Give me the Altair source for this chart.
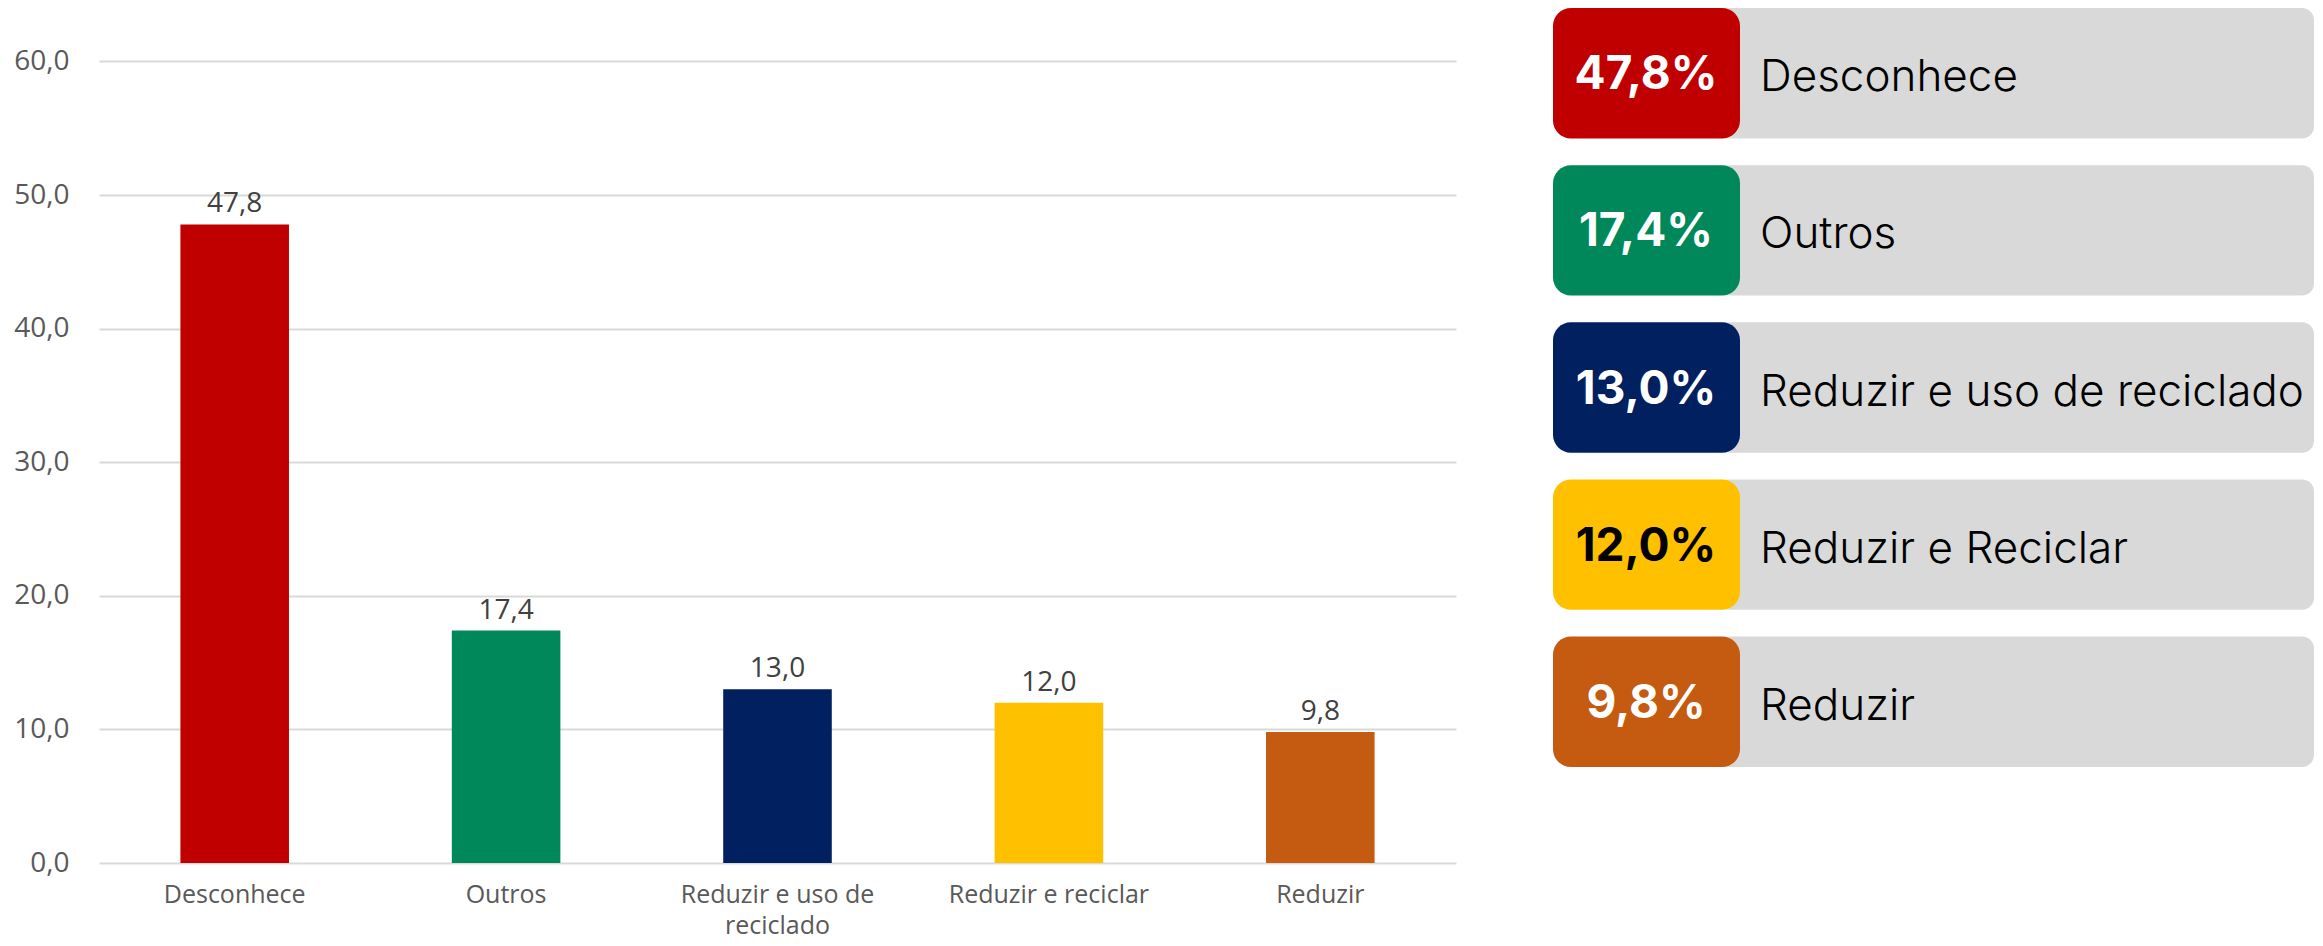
import altair as alt
import pandas as pd

# ---- data ----
categories = ["Desconhece", "Outros", "Reduzir e uso de reciclado", "Reduzir e reciclar", "Reduzir"]
values = [47.8, 17.4, 13.0, 12.0, 9.8]
card_labels = ["Desconhece", "Outros", "Reduzir e uso de reciclado", "Reduzir e Reciclar", "Reduzir"]
y_ticks = [0, 10, 20, 30, 40, 50, 60]
wrapped = {"Reduzir e uso de reciclado": ["Reduzir e uso de", "reciclado"]}

bar_colors = ["#C00000", "#00875A", "#002060", "#FFC000", "#C55A11"]

df = pd.DataFrame({"cat": categories, "value": values})
cards = pd.DataFrame({"key": categories, "label": card_labels, "value": values})

# wrapped x labels
expr = "datum.label"
for k, lines in wrapped.items():
    arr = "[" + ", ".join("'" + s + "'" for s in lines) + "]"
    expr = f"datum.label == '{k}' ? {arr} : ({expr})"

comma_fmt = "replace(format(datum.value, '.1f'), '.', ',')"

# ---- left panel: bar chart ----
base = alt.Chart(df).encode(
    x=alt.X("cat:N", sort=categories, title=None,
            scale=alt.Scale(paddingInner=0.6, paddingOuter=0.3),
            axis=alt.Axis(labelAngle=0, ticks=False, domain=False, labelPadding=19,
                          labelFontSize=25, labelColor="#595959", labelFont="Open Sans",
                          labelLineHeight=31, labelLimit=0, labelExpr=expr)),
    y=alt.Y("value:Q", title=None,
            scale=alt.Scale(domain=[0, 64], nice=False),
            axis=alt.Axis(values=y_ticks, ticks=False, domain=False,
                          gridColor="#D9D9D9", gridWidth=2,
                          labelFontSize=28, labelFont="Open Sans", labelColor="#595959",
                          labelPadding=30, labelExpr=comma_fmt)),
)

bars = base.mark_bar().encode(
    color=alt.Color("cat:N", scale=alt.Scale(domain=categories, range=bar_colors), legend=None)
)
labels = base.mark_text(dy=-12, baseline="alphabetic", fontSize=28, font="Open Sans",
                        color="#404040").encode(text="lbl:N").transform_calculate(lbl=comma_fmt)

left = alt.layer(bars, labels).properties(width=1357, height=855)

# ---- right panel: cards ----
cbase = alt.Chart(cards).encode(
    y=alt.Y("key:N", sort=categories, axis=None,
            scale=alt.Scale(paddingInner=0.17, paddingOuter=0))
)
gray = cbase.mark_rect(color="#D9D9D9", cornerRadius=12).encode(
    x=alt.value(165), x2=alt.value(761))
box = cbase.mark_rect(cornerRadius=18).encode(
    x=alt.value(0), x2=alt.value(187),
    color=alt.Color("key:N", scale=alt.Scale(domain=categories, range=bar_colors), legend=None))
pct = cbase.mark_text(font="Inter", fontSize=46, fontWeight="bold", dy=2, align="center").encode(
    x=alt.value(93), text="pct:N",
    color=alt.condition(alt.datum.key == "Reduzir e reciclar", alt.value("#000000"), alt.value("#FFFFFF")),
).transform_calculate(pct=comma_fmt + " + '%'")
lab = cbase.mark_text(font="Inter", fontSize=44, fontWeight=300, align="left", dy=5,
                      color="#000000").encode(x=alt.value(207), text="label:N")

right = alt.layer(gray, box, pct, lab).properties(width=761, height=759)

chart = alt.hconcat(left, right, spacing=97).resolve_scale(
    x="independent", y="independent", color="independent"
).properties(
    padding={"left": 5, "top": 0, "right": 0, "bottom": 0}
).configure_view(stroke=None)

chart.save("out.html", embed_options={"renderer": "svg", "actions": False})
